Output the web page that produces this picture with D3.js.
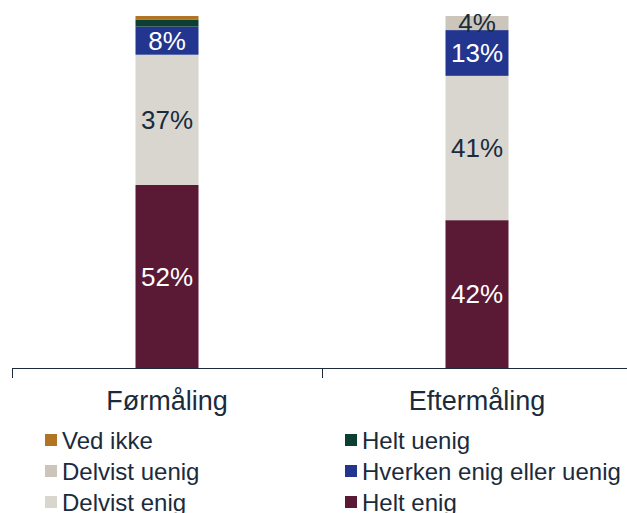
<!DOCTYPE html>
<html>
<head>
<meta charset="utf-8">
<script src="https://cdn.jsdelivr.net/npm/d3@7"></script>
<style>
  html, body { margin: 0; padding: 0; background: #fff; }
  svg { display: block; font-family: "Liberation Sans", Arial, sans-serif; }
</style>
</head>
<body>
<svg id="chart" width="627" height="513"></svg>
<script>
// Survey waves on the x axis
const categories = ["Førmåling", "Eftermåling"];

// Answer categories, stacked bottom to top
const seriesNames = ["Helt enig", "Delvist enig", "Hverken enig eller uenig", "Delvist uenig", "Helt uenig", "Ved ikke"];

// Shares (%) per answer, one value per wave
const heltEnig     = [52, 42];
const delvistEnig  = [37, 41];
const hverken      = [8, 13];
const delvistUenig = [0, 4];
const heltUenig    = [2, 0];
const vedIkke      = [1, 0];

const seriesValues = [heltEnig, delvistEnig, hverken, delvistUenig, heltUenig, vedIkke];

// Legend order (two columns, read row by row)
const legendOrder = ["Ved ikke", "Helt uenig", "Delvist uenig", "Hverken enig eller uenig", "Delvist enig", "Helt enig"];

const colors = {
  "Helt enig": "#5a1a35",
  "Delvist enig": "#d9d5cf",
  "Hverken enig eller uenig": "#22358f",
  "Delvist uenig": "#ccc5bb",
  "Helt uenig": "#0c3e31",
  "Ved ikke": "#b07424"
};
const labelColor = {
  "Helt enig": "#ffffff",
  "Delvist enig": "#1b2b3c",
  "Hverken enig eller uenig": "#ffffff",
  "Delvist uenig": "#1b2b3c",
  "Helt uenig": "#ffffff",
  "Ved ikke": "#ffffff"
};
const textColor = "#1b2b3c";

const svg = d3.select("#chart");

const rows = categories.map((c, i) => {
  const r = { cat: c };
  seriesNames.forEach((s, k) => r[s] = seriesValues[k][i]);
  return r;
});

const stacked = d3.stack().keys(seriesNames)(rows);

const x = d3.scaleBand().domain(categories).range([12, 632]).paddingInner(0).paddingOuter(0);
const y = d3.scaleLinear().domain([0, 100]).range([368, 16]);
const barW = 63;

const g = svg.append("g");

stacked.forEach(layer => {
  const key = layer.key;
  layer.forEach((d, i) => {
    const cx = x(categories[i]) + x.bandwidth() / 2;
    const h = y(d[0]) - y(d[1]);
    if (h <= 0) return;
    g.append("rect")
      .attr("x", cx - barW / 2)
      .attr("y", y(d[1]))
      .attr("width", barW)
      .attr("height", h)
      .attr("fill", colors[key]);
  });
});

// Value labels for segments large enough to carry them
stacked.forEach(layer => {
  const key = layer.key;
  layer.forEach((d, i) => {
    const v = d[1] - d[0];
    if (v < 4) return;
    const cx = x(categories[i]) + x.bandwidth() / 2;
    g.append("text")
      .attr("x", cx)
      .attr("y", (y(d[0]) + y(d[1])) / 2)
      .attr("dy", "0.36em")
      .attr("text-anchor", "middle")
      .attr("font-size", 26)
      .attr("fill", labelColor[key])
      .text(v + "%");
  });
});

// Category axis
const axisG = svg.append("g").attr("transform", "translate(0,368)");
axisG.append("line")
  .attr("x1", 12).attr("x2", 627).attr("y1", 0.5).attr("y2", 0.5)
  .attr("stroke", "#1b2b3c").attr("stroke-width", 1);
const tickPos = [x(categories[0]), x(categories[1]), x(categories[1]) + x.bandwidth()];
tickPos.forEach(tx => {
  axisG.append("line")
    .attr("x1", Math.round(tx) + 0.5).attr("x2", Math.round(tx) + 0.5)
    .attr("y1", 0).attr("y2", 10)
    .attr("stroke", "#1b2b3c").attr("stroke-width", 1);
});
categories.forEach(c => {
  axisG.append("text")
    .attr("x", x(c) + x.bandwidth() / 2)
    .attr("y", 42)
    .attr("text-anchor", "middle")
    .attr("font-size", 27)
    .attr("fill", textColor)
    .text(c);
});

// Legend
const legend = svg.append("g");
legendOrder.forEach((name, i) => {
  const col = i % 2, row = Math.floor(i / 2);
  const lx = col === 0 ? 45 : 345;
  const ly = 440 + row * 31;
  legend.append("rect")
    .attr("x", lx).attr("y", ly - 6)
    .attr("width", 12).attr("height", 12)
    .attr("fill", colors[name]);
  legend.append("text")
    .attr("x", lx + 17).attr("y", ly)
    .attr("dy", "0.36em")
    .attr("font-size", 24)
    .attr("fill", textColor)
    .text(name);
});
</script>
</body>
</html>
